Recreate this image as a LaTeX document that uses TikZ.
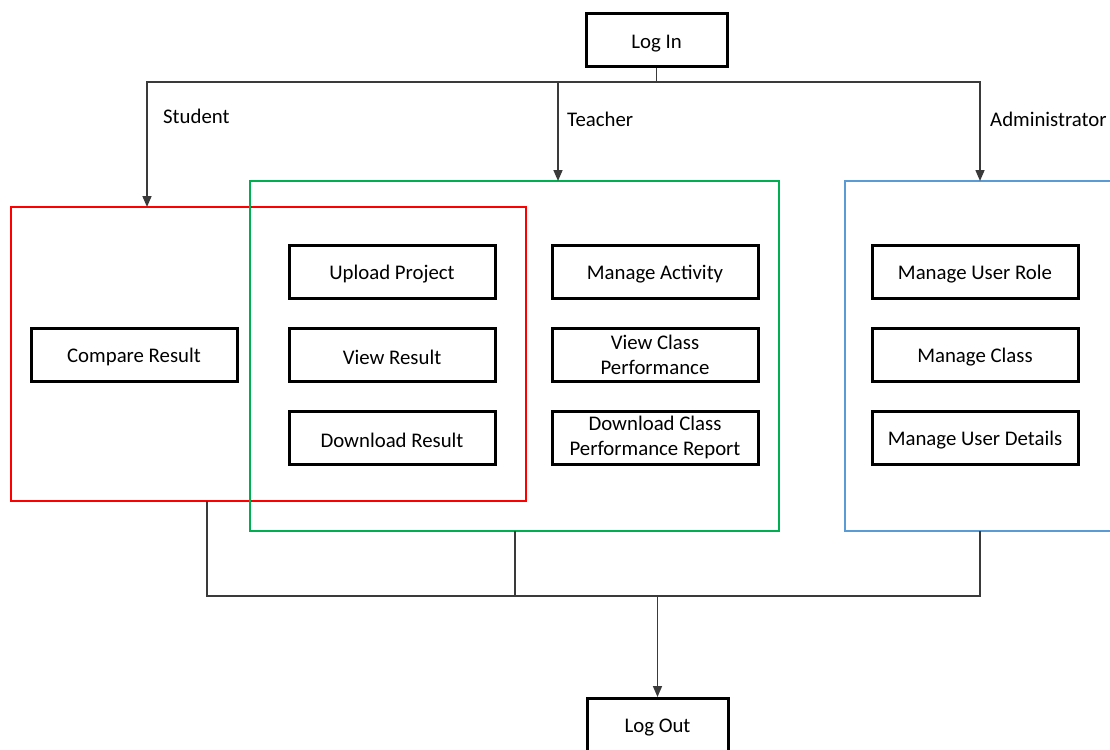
\documentclass[tikz,border=0pt]{standalone}
\usepackage{fontspec}
\setmainfont{Carlito}
\usetikzlibrary{arrows.meta}
\definecolor{studentred}{HTML}{FF0000}
\definecolor{teachergreen}{HTML}{00B050}
\definecolor{adminblue}{HTML}{5B9BD5}
\definecolor{wire}{HTML}{3A3A3A}
\tikzset{
  task/.style={draw=black, line width=3pt, minimum width=206pt, minimum height=53pt,
    inner sep=0pt, align=center, font=\fontsize{20.8}{25}\selectfont,
    execute at begin node={\rule{0pt}{19.5pt}}},
  endpoint/.style={task, minimum width=141pt},
  group/.style={line width=2pt, inner sep=0pt},
  link/.style={draw=wire, line width=1.6pt},
  arrowlink/.style={link, -{Triangle[length=11pt,width=9pt]}},
  role/.style={anchor=west, font=\fontsize{20.8}{25}\selectfont, inner sep=0pt},
}
\begin{document}
\begin{tikzpicture}[x=1pt, y=-1pt]
\useasboundingbox (0,0) rectangle (1110,749);
\clip (0,0) rectangle (1110,749);

% role frames
\node[group, draw=studentred, minimum width=515pt, minimum height=294pt] (student) at (268.5,354) {};
\node[group, draw=teachergreen, minimum width=529pt, minimum height=350pt] (teacher) at (514.5,356) {};
\node[group, draw=adminblue, minimum width=290pt, minimum height=350pt] (admin) at (990,356) {};

% entry and exit
\node[endpoint] (login) at (656.5,40.5) {Log In};
\node[endpoint] (logout) at (657.5,725) {Log Out};

% student tasks
\node[task] (compare) at (134,354.5) {Compare Result};

% shared student / teacher tasks
\node[task] (upload) at (392,271.5) {Upload Project};
\node[task] (viewres) at (392,354.5) {View Result};
\node[task] (download) at (392,437.5) {Download Result};

% teacher tasks
\node[task] (activity) at (655,271.5) {Manage Activity};
\node[task] (classperf) at (655,354.5) {View Class\\Performance};
\node[task] (report) at (655,437.5) {Download Class\\Performance Report};

% administrator tasks
\node[task] (userrole) at (975,271.5) {Manage User Role};
\node[task] (manageclass) at (975,354.5) {Manage Class};
\node[task] (userdetails) at (975,437.5) {Manage User Details};

% branching after log in
\coordinate (split) at (656.5,82);
\coordinate (sIn) at (147,207);
\coordinate (tIn) at (558,181);
\coordinate (aIn) at (980,181);
\draw[link] (login.south) -- (split);
\draw[arrowlink] (split) -| (sIn);
\draw[arrowlink] (split) -| (tIn);
\draw[arrowlink] (split) -| (aIn);

\node[role] (lstudent) at (163,116) {Student};
\node[role] (lteacher) at (567,119) {Teacher};
\node[role] (ladmin) at (990,119) {Administrator};

% merging before log out
\coordinate (sOut) at (207,501);
\coordinate (tOut) at (515,531);
\coordinate (aOut) at (980,531);
\coordinate (merge) at (657.5,596);
\draw[link] (sOut) |- (merge);
\draw[link] (tOut) |- (merge);
\draw[link] (aOut) |- (merge);
\draw[arrowlink] (merge) -- (logout.north);
\end{tikzpicture}
\end{document}
